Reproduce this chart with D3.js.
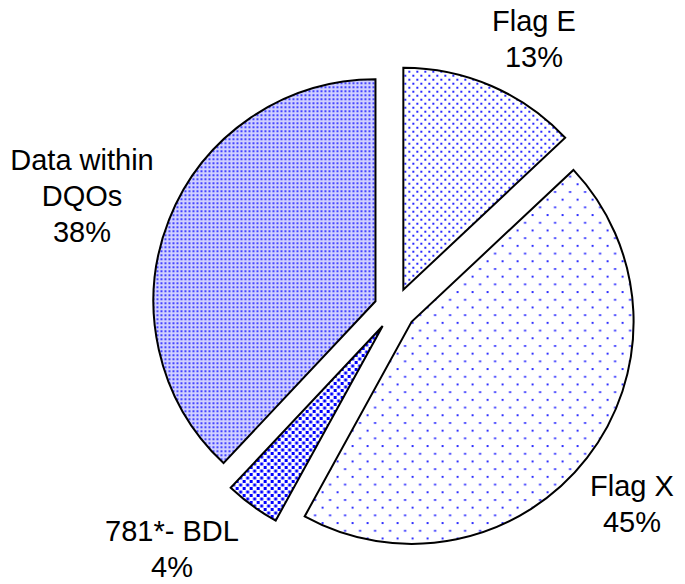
<!DOCTYPE html>
<html>
<head>
<meta charset="utf-8">
<script src="https://cdn.jsdelivr.net/npm/d3@7"></script>
<style>
	body { margin: 0; background: #fff; }
	text { font-family: "Liberation Sans", Arial, sans-serif; fill: #000; }
</style>
</head>
<body>
<div id="chart"></div>
<script>

//Data
var categories = ["Flag E", "Flag X", "781*- BDL", "Data within DQOs"];
var values = [13, 45, 4, 38];
var labelLines = [["Flag E", "13%"], ["Flag X", "45%"], ["781*- BDL", "4%"], ["Data within", "DQOs", "38%"]];

///////////////////////////////////////////////////////////////////////////
//////////////////// Set up and initiate svg container ////////////////////
///////////////////////////////////////////////////////////////////////////

var width = 685,
	height = 584;
var cx = 395, cy = 309;
var radius = 222;
var explode = 21;

var svg = d3.select("#chart")
	.append("svg")
	.attr("width", width)
	.attr("height", height);

///////////////////////////////////////////////////////////////////////////
/////////////////////////// Create the patterns ///////////////////////////
///////////////////////////////////////////////////////////////////////////

var defs = svg.append("defs");

//Flag E - small staggered dots
var p0 = defs.append("pattern").attr("id", "pat0")
	.attr("patternUnits", "userSpaceOnUse").attr("width", 8).attr("height", 8);
p0.append("rect").attr("x", 1).attr("y", 1).attr("width", 2).attr("height", 2).style("fill", "#2a2aff");
p0.append("rect").attr("x", 5).attr("y", 5).attr("width", 2).attr("height", 2).style("fill", "#2a2aff");

//Flag X - sparse dots
var p1 = defs.append("pattern").attr("id", "pat1")
	.attr("patternUnits", "userSpaceOnUse").attr("width", 15).attr("height", 15.4);
p1.append("rect").attr("x", 0).attr("y", 0).attr("width", 2).attr("height", 2).style("fill", "#3030ff");
p1.append("rect").attr("x", 7.5).attr("y", 7.7).attr("width", 2).attr("height", 2).style("fill", "#3030ff");

//781*- BDL - heavy dots
var p2 = defs.append("pattern").attr("id", "pat2")
	.attr("patternUnits", "userSpaceOnUse").attr("width", 7).attr("height", 7);
p2.append("rect").attr("x", 0).attr("y", 0).attr("width", 3).attr("height", 3).style("fill", "#0000ff");
p2.append("rect").attr("x", 3.5).attr("y", 3.5).attr("width", 3).attr("height", 3).style("fill", "#0000ff");

//Data within DQOs - dense fine dots
var p3 = defs.append("pattern").attr("id", "pat3")
	.attr("patternUnits", "userSpaceOnUse").attr("width", 4).attr("height", 4);
p3.append("rect").attr("width", 4).attr("height", 4).style("fill", "#d0d0ff");
p3.append("rect").attr("x", 1).attr("y", 1).attr("width", 2).attr("height", 2).style("fill", "#4545ff");

///////////////////////////////////////////////////////////////////////////
///////////////////////////// Draw the slices /////////////////////////////
///////////////////////////////////////////////////////////////////////////

var pie = d3.pie().sort(null).value(function(d) { return d; });
var arcs = pie(values);

var arc = d3.arc().innerRadius(0).outerRadius(radius);

var g = svg.append("g")
	.attr("transform", "translate(" + cx + "," + cy + ")");

g.selectAll(".slice")
	.data(arcs)
	.enter().append("path")
	.attr("class", "slice")
	.attr("transform", function(d) {
		var a = (d.startAngle + d.endAngle) / 2;
		return "translate(" + (Math.sin(a) * explode) + "," + (-Math.cos(a) * explode) + ")";
	})
	.attr("d", arc)
	.style("fill", function(d, i) { return "url(#pat" + i + ")"; })
	.style("stroke", "#000")
	.style("stroke-width", 2)
	.style("stroke-linejoin", "miter");

///////////////////////////////////////////////////////////////////////////
///////////////////////////// Add the labels //////////////////////////////
///////////////////////////////////////////////////////////////////////////

var labelPos = [[534, 21], [632, 486], [172, 531], [82, 160]];
var lineGap = 36;

svg.selectAll(".label")
	.data(labelLines)
	.enter().append("text")
	.attr("class", "label")
	.attr("text-anchor", "middle")
	.style("font-size", "29px")
	.each(function(lines, i) {
		var t = d3.select(this);
		lines.forEach(function(l, j) {
			t.append("tspan")
				.attr("x", labelPos[i][0])
				.attr("y", labelPos[i][1] + j * lineGap)
				.attr("dy", "0.35em")
				.text(l);
		});
	});

</script>
</body>
</html>
